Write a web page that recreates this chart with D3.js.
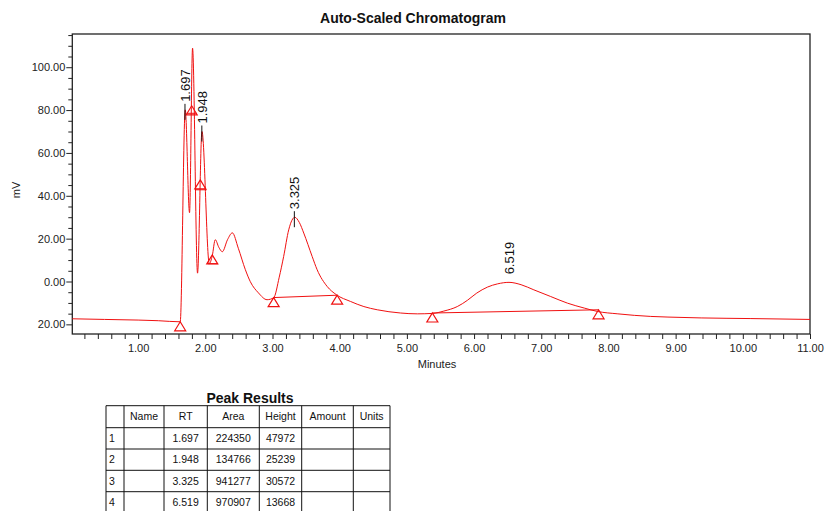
<!DOCTYPE html>
<html>
<head>
<meta charset="utf-8">
<script src="https://cdnjs.cloudflare.com/ajax/libs/d3/7.8.5/d3.min.js"></script>
<style>
  body { margin: 0; background: #fff; }
  svg { font-family: "Liberation Sans", Arial, sans-serif; }
</style>
</head>
<body>
<svg id="chart" width="825" height="511"></svg>
<script>
// trace (minutes, mV)
var traceTime = [0.02, 0.5, 1.0, 1.3, 1.626, 1.701, 1.765, 1.810, 1.884, 1.950, 2.059, 2.103, 2.148, 2.200, 2.253, 2.330, 2.402, 2.491, 2.596, 2.670, 2.790, 2.919, 3.017, 3.100, 3.166, 3.241, 3.300, 3.330, 3.400, 3.465, 3.590, 3.664, 3.813, 3.952, 4.160, 4.360, 4.560, 4.906, 5.155, 5.379, 5.550, 5.750, 5.900, 6.040, 6.200, 6.350, 6.520, 6.700, 6.890, 7.140, 7.390, 7.640, 7.840, 8.140, 8.630, 8.886, 9.380, 10.120, 11.0]
var traceMv = [-17.4, -17.7, -18.0, -18.3, -18.8, 80.1, 32.1, 108.9, 3.9, 70.0, 8.3, 12.0, 19.5, 16.0, 13.9, 19.5, 22.7, 15.5, 5.5, -0.1, -5.3, -8.5, -7.6, 2.0, 11.7, 24.1, 29.2, 30.0, 27.5, 22.6, 11.7, 5.5, -2.3, -6.2, -9.3, -11.7, -13.2, -14.7, -15.1, -14.9, -13.8, -11.7, -8.8, -5.4, -2.6, -1.1, -0.4, -1.5, -3.9, -7.0, -10.1, -12.4, -14.0, -15.1, -16.3, -16.6, -17.0, -17.3, -17.7]

// integration marks (triangles) and baselines
var markTime = [1.626, 1.797, 1.925, 2.103, 3.017, 3.962, 5.379, 7.853]
var markMv = [-18.8, 82.0, 47.4, 12.4, -7.5, -6.4, -14.7, -13.2]
var baseStartTime = [1.72, 1.85, 2.04, 3.017, 5.379]
var baseStartMv = [78.5, 42.8, 8.3, -7.5, -14.7]
var baseEndTime = [1.87, 2.02, 2.19, 3.962, 7.853]
var baseEndMv = [78.5, 42.8, 8.3, -6.4, -13.2]

// peak table
var peakRT = ["1.697", "1.948", "3.325", "6.519"]
var peakArea = ["224350", "134766", "941277", "970907"]
var peakHeight = ["47972", "25239", "30572", "13668"]
var peakApexMv = [80.1, 70.0, 30.0, -0.4]
var peakTick = [true, true, true, false]
var tableHeader = ["", "Name", "RT", "Area", "Height", "Amount", "Units"]

// axis ticks
var xMajor = [1, 2, 3, 4, 5, 6, 7, 8, 9, 10, 11]
var xTickLabels = ["1.00", "2.00", "3.00", "4.00", "5.00", "6.00", "7.00", "8.00", "9.00", "10.00", "11.00"]
var yMajor = [-20, 0, 20, 40, 60, 80, 100]
var yTickLabels = ["20.00", "0.00", "20.00", "40.00", "60.00", "80.00", "100.00"]

var svg = d3.select("#chart")

var x = d3.scaleLinear().domain([0.02, 11]).range([72.3, 810])
var y = d3.scaleLinear().domain([-24.5, 115.5]).range([334, 34])

svg.append("text")
    .attr("x", 413).attr("y", 23)
    .attr("text-anchor", "middle")
    .attr("font-size", 14).attr("font-weight", "bold")
    .attr("fill", "#111")
    .text("Auto-Scaled Chromatogram")

// minor ticks first, then majors with labels
var xMinor = d3.range(1, 55).map(function(i) { return i / 5 }).filter(function(d) { return Math.abs(d - Math.round(d)) > 0.01 })
svg.append("g")
    .attr("transform", "translate(0,334)")
    .call(d3.axisBottom(x).tickValues(xMinor).tickSize(5).tickFormat(""))
svg.append("g")
    .attr("transform", "translate(0,334)")
    .call(d3.axisBottom(x).tickValues(xMajor).tickSize(5).tickPadding(5)
        .tickFormat(function(d, i) { return xTickLabels[i] }))

var yMinor = d3.range(-20, 116, 5).filter(function(d) { return d % 20 !== 0 })
svg.append("g")
    .attr("transform", "translate(72.3,0)")
    .call(d3.axisLeft(y).tickValues(yMinor).tickSize(4).tickFormat(""))
svg.append("g")
    .attr("transform", "translate(72.3,0)")
    .call(d3.axisLeft(y).tickValues(yMajor).tickSize(6).tickPadding(1)
        .tickFormat(function(d, i) { return yTickLabels[i] }))

svg.selectAll(".domain").remove()
svg.selectAll(".tick line").attr("stroke", "#222")
svg.selectAll(".tick text").attr("font-size", 11).attr("fill", "#222")
    .attr("font-family", "Liberation Sans, Arial, sans-serif")

// frame
svg.append("rect")
    .attr("x", 72.3).attr("y", 34)
    .attr("width", 810 - 72.3).attr("height", 300)
    .attr("fill", "none").attr("stroke", "#222").attr("stroke-width", 1.3)

svg.append("text")
    .attr("transform", "translate(20,190) rotate(-90)")
    .attr("text-anchor", "middle")
    .attr("font-size", 11).attr("fill", "#222")
    .text("mV")

svg.append("text")
    .attr("x", 437).attr("y", 368)
    .attr("text-anchor", "middle")
    .attr("font-size", 11).attr("fill", "#222")
    .text("Minutes")

// chromatogram trace
var pts = traceTime.map(function(t, i) { return [t, traceMv[i]] })
var line = d3.line()
    .x(function(d) { return x(d[0]) })
    .y(function(d) { return y(d[1]) })
    .curve(d3.curveMonotoneX)

svg.append("path")
    .datum(pts)
    .attr("d", line)
    .attr("fill", "none")
    .attr("stroke", "#f01010")
    .attr("stroke-width", 1)

// baselines
svg.selectAll("line.base")
    .data(baseStartTime).enter()
    .append("line")
    .attr("class", "base")
    .attr("x1", function(d) { return x(d) })
    .attr("y1", function(d, i) { return y(baseStartMv[i]) })
    .attr("x2", function(d, i) { return x(baseEndTime[i]) })
    .attr("y2", function(d, i) { return y(baseEndMv[i]) })
    .attr("stroke", "#f01010").attr("stroke-width", 1)

// triangles, apex on the trace
svg.selectAll("path.mark")
    .data(markTime).enter()
    .append("path")
    .attr("class", "mark")
    .attr("d", function(d, i) {
        var px = x(d), py = y(markMv[i])
        return "M" + px + "," + py + "L" + (px + 5.5) + "," + (py + 9) + "L" + (px - 5.5) + "," + (py + 9) + "Z"
    })
    .attr("fill", "none")
    .attr("stroke", "#f01010").attr("stroke-width", 1.2)

// peak labels
var labels = svg.selectAll("g.peak")
    .data(peakRT).enter()
    .append("g")
    .attr("class", "peak")

labels.append("line")
    .filter(function(d, i) { return peakTick[i] })
    .attr("x1", function(d) { return x(+d) })
    .attr("x2", function(d) { return x(+d) })
    .attr("y1", function(d, i) { return y(peakApexMv[i]) - 6 })
    .attr("y2", function(d, i) { return y(peakApexMv[i]) + 10 })
    .attr("stroke", "#111").attr("stroke-width", 1)

labels.append("text")
    .attr("transform", function(d, i) {
        return "translate(" + x(+d) + "," + (y(peakApexMv[i]) - 8) + ") rotate(-90)"
    })
    .attr("dy", "0.36em")
    .attr("font-size", 13).attr("fill", "#111")
    .text(function(d) { return d })

// peak results table
var colX = [106, 124, 164, 207.3, 259.3, 301.7, 353.3, 390]
var rowY = [405.7, 427.7, 449, 470.3, 491.7, 513]

svg.append("text")
    .attr("x", 250).attr("y", 403)
    .attr("text-anchor", "middle")
    .attr("font-size", 14).attr("font-weight", "bold")
    .attr("fill", "#111")
    .text("Peak Results")

var table = svg.append("g").attr("stroke", "#111").attr("stroke-width", 1)
rowY.forEach(function(ry) {
    table.append("line").attr("x1", colX[0]).attr("x2", colX[colX.length - 1]).attr("y1", ry).attr("y2", ry)
})
colX.forEach(function(cx) {
    table.append("line").attr("x1", cx).attr("x2", cx).attr("y1", rowY[0]).attr("y2", rowY[rowY.length - 1])
})

var cellText = svg.append("g").attr("font-size", 10.5).attr("fill", "#111")
tableHeader.forEach(function(h, j) {
    cellText.append("text")
        .attr("x", (colX[j] + colX[j + 1]) / 2).attr("y", (rowY[0] + rowY[1]) / 2)
        .attr("dy", "0.35em").attr("text-anchor", "middle")
        .text(h)
})
peakRT.forEach(function(rt, i) {
    var cy = (rowY[i + 1] + rowY[i + 2]) / 2
    var row = [String(i + 1), "", rt, peakArea[i], peakHeight[i], "", ""]
    row.forEach(function(v, j) {
        cellText.append("text")
            .attr("x", j === 0 ? colX[0] + 3 : (colX[j] + colX[j + 1]) / 2)
            .attr("y", cy).attr("dy", "0.35em")
            .attr("text-anchor", j === 0 ? "start" : "middle")
            .text(v)
    })
})
</script>
</body>
</html>
